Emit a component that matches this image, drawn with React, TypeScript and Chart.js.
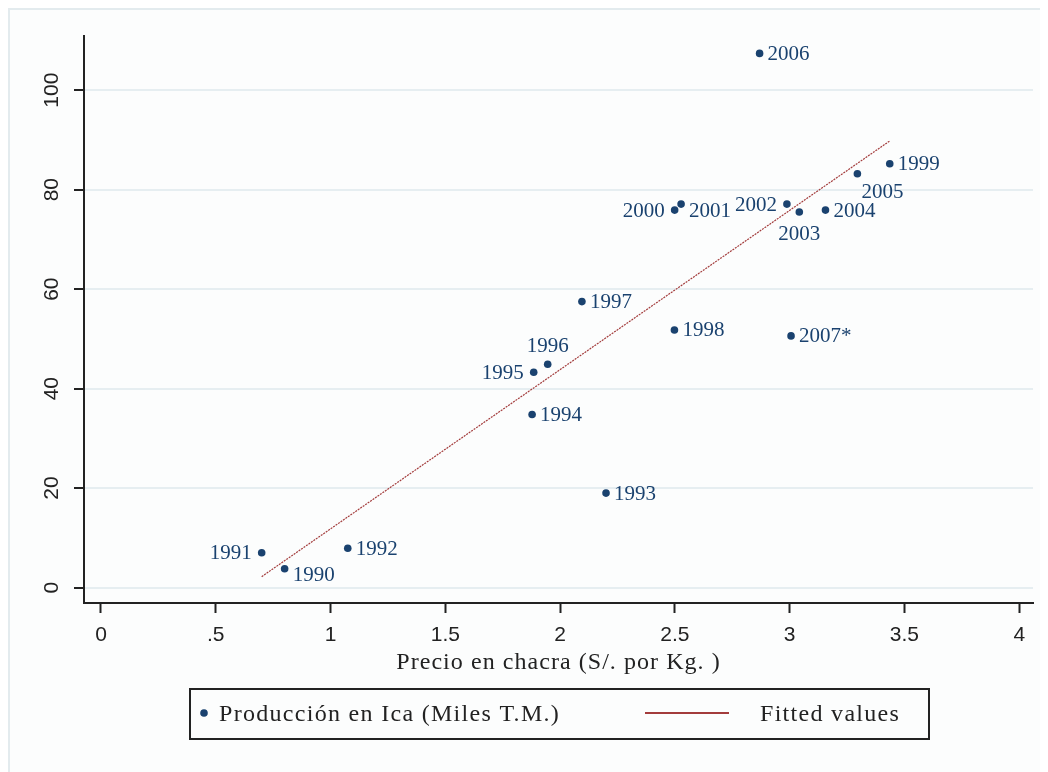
import React, { useEffect, useRef } from 'react';
import { Chart, registerables } from 'chart.js';

Chart.register(...registerables);

// ---------- data ----------
const YEARS = ['1990', '1991', '1992', '1993', '1994', '1995', '1996', '1997', '1998', '1999', '2000', '2001', '2002', '2003', '2004', '2005', '2006', '2007*'];
const PRICE = [0.80, 0.70, 1.075, 2.20, 1.878, 1.885, 1.946, 2.095, 2.498, 3.436, 2.499, 2.527, 2.988, 3.042, 3.156, 3.295, 2.869, 3.006];
const PRODUCTION = [3.8, 7.0, 7.9, 19.0, 34.8, 43.3, 44.9, 57.5, 51.8, 85.2, 75.9, 77.1, 77.1, 75.5, 75.9, 83.2, 107.4, 50.6];
// Stata-style clock positions for the marker labels
const LABEL_CLOCK = [4, 9, 3, 3, 3, 9, 12, 3, 3, 3, 9, 4, 9, 6, 3, 5, 3, 3];
const FIT_X = [0.70, 3.436];
const FIT_Y = [2.2, 89.8];
const X_TICKS = [0, 0.5, 1, 1.5, 2, 2.5, 3, 3.5, 4];
const X_TICK_LABELS = ['0', '.5', '1', '1.5', '2', '2.5', '3', '3.5', '4'];
const Y_TICKS = [0, 20, 40, 60, 80, 100];
const Y_TICK_LABELS = ['0', '20', '40', '60', '80', '100'];
const X_TITLE = 'Precio en chacra (S/. por Kg. )';
const LEGEND_LABELS = ['Producción en Ica (Miles T.M.)', 'Fitted values'];

// ---------- style ----------
const NAVY = '#1a426f';
const FIT_RED = '#a33c3c';
const AXIS = '#222222';
const GRID = '#e6eef1';
const BG = '#fcfdfd';
const FRAME = '#e3ebee';
const SERIF = '"Liberation Serif", "Times New Roman", serif';
const SANS = '"Liberation Sans", Arial, sans-serif';

const W = 1040;
const H = 764;

const decor = {
  id: 'decor',
  beforeDraw(chart: any) {
    const ctx = chart.ctx;
    ctx.save();
    ctx.fillStyle = BG;
    ctx.fillRect(0, 0, W, H);
    ctx.strokeStyle = FRAME;
    ctx.lineWidth = 2;
    ctx.beginPath();
    ctx.moveTo(1, H);
    ctx.lineTo(1, 1);
    ctx.lineTo(W, 1);
    ctx.stroke();
    ctx.restore();
  },
  afterDraw(chart: any) {
    const ctx = chart.ctx;
    const xs = chart.scales.x;
    const ys = chart.scales.y;
    const area = chart.chartArea;
    ctx.save();

    // y tick labels (rotated)
    ctx.fillStyle = AXIS;
    ctx.font = `21px ${SANS}`;
    ctx.textAlign = 'center';
    ctx.textBaseline = 'middle';
    Y_TICKS.forEach((v, i) => {
      const y = ys.getPixelForValue(v);
      ctx.save();
      ctx.translate(area.left - 32, y);
      ctx.rotate(-Math.PI / 2);
      ctx.fillText(Y_TICK_LABELS[i], 0, 0);
      ctx.restore();
    });

    // x tick labels
    X_TICKS.forEach((v, i) => {
      const x = xs.getPixelForValue(v);
      ctx.fillText(X_TICK_LABELS[i], x, area.bottom + 32);
    });

    // x title
    ctx.font = `24px ${SERIF}`;
    ctx.textAlign = 'left';
    (ctx as any).letterSpacing = '1.05px';
    const tw = ctx.measureText(X_TITLE).width;
    ctx.fillText(X_TITLE, (area.left + area.right) / 2 - tw / 2, area.bottom + 60);

    // data labels
    (ctx as any).letterSpacing = '0px';
    ctx.font = `21px ${SERIF}`;
    ctx.fillStyle = NAVY;
    const meta = chart.getDatasetMeta(0);
    meta.data.forEach((pt: any, i: number) => {
      const c = LABEL_CLOCK[i];
      let x = pt.x;
      let y = pt.y;
      let align: CanvasTextAlign = 'left';
      if (c === 3) { x += 8; }
      else if (c === 9) { x -= 10; align = 'right'; }
      else if (c === 12) { y -= 19; align = 'center'; }
      else if (c === 6) { y += 21; align = 'center'; }
      else if (c === 4) { x += 8; y += 6; }
      else if (c === 5) { x += 4; y += 18; }
      ctx.textAlign = align;
      ctx.fillText(YEARS[i], x, y + 1);
    });

    // legend
    const lx = area.left + 106;
    const lr = area.right - 104;
    const lt = area.bottom + 86;
    const lb = lt + 50;
    ctx.strokeStyle = AXIS;
    ctx.lineWidth = 2;
    ctx.strokeRect(lx, lt, lr - lx, lb - lt);
    const my = (lt + lb) / 2;
    ctx.fillStyle = NAVY;
    ctx.beginPath();
    ctx.arc(lx + 14, my - 1, 3.8, 0, Math.PI * 2);
    ctx.fill();
    ctx.fillStyle = AXIS;
    ctx.font = `24px ${SERIF}`;
    ctx.textAlign = 'left';
    (ctx as any).letterSpacing = '1.3px';
    ctx.fillText(LEGEND_LABELS[0], lx + 29, my + 1);
    ctx.strokeStyle = FIT_RED;
    ctx.lineWidth = 2;
    ctx.beginPath();
    ctx.moveTo(lx + 455, my - 1);
    ctx.lineTo(lx + 539, my - 1);
    ctx.stroke();
    ctx.fillText(LEGEND_LABELS[1], lx + 570, my + 1);
    (ctx as any).letterSpacing = '0px';

    ctx.restore();
  },
};

export default function App() {
  const ref = useRef<HTMLCanvasElement | null>(null);
  useEffect(() => {
    if (!ref.current) return;
    const chart = new Chart(ref.current, {
      type: 'scatter',
      data: {
        datasets: [
          {
            label: LEGEND_LABELS[0],
            data: PRICE.map((x, i) => ({ x, y: PRODUCTION[i] })),
            backgroundColor: NAVY,
            borderColor: NAVY,
            pointRadius: 3.8,
            pointBorderWidth: 0,
            order: 2,
          },
          {
            type: 'line',
            label: LEGEND_LABELS[1],
            data: FIT_X.map((x, i) => ({ x, y: FIT_Y[i] })),
            borderColor: FIT_RED,
            borderWidth: 1.2,
            borderDash: [2, 1],
            pointRadius: 0,
            showLine: true,
            fill: false,
            order: 1,
          } as any,
        ],
      },
      options: {
        responsive: false,
        devicePixelRatio: 1,
        animation: false,
        layout: { padding: { top: 28, right: 15, left: 0, bottom: 0 } },
        plugins: { legend: { display: false }, tooltip: { enabled: false } },
        scales: {
          x: {
            type: 'linear',
            min: -0.074,
            max: 4.06,
            afterBuildTicks: (s: any) => { s.ticks = X_TICKS.map((v) => ({ value: v })); },
            afterFit: (s: any) => { s.height = 169; },
            ticks: { display: false },
            grid: { drawOnChartArea: false, tickColor: AXIS, tickWidth: 2, tickLength: 10 },
            border: { display: true, color: AXIS, width: 2 },
          },
          y: {
            type: 'linear',
            min: -3.1,
            max: 110.9,
            afterBuildTicks: (s: any) => { s.ticks = Y_TICKS.map((v) => ({ value: v })); },
            afterFit: (s: any) => { s.width = 76; },
            ticks: { display: false },
            grid: { color: GRID, lineWidth: 2, tickColor: AXIS, tickWidth: 2, tickLength: 10 },
            border: { display: true, color: AXIS, width: 2 },
          },
        },
      },
      plugins: [decor],
    });
    return () => chart.destroy();
  }, []);
  return (
    <div style={{ width: W, height: H }}>
      <canvas ref={ref} width={W} height={H} style={{ display: 'block', width: W, height: H }} />
    </div>
  );
}
